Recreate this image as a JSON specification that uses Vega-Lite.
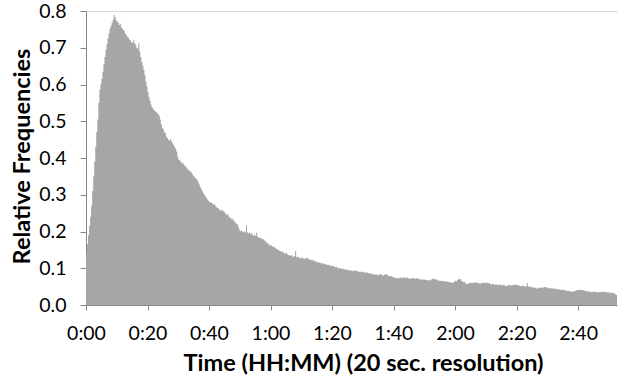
{
"$schema":"https://vega.github.io/schema/vega-lite/v6.json",
"width":531,"height":294,
"autosize":"none",
"padding":{"left":86,"top":11,"right":1,"bottom":74},
"background":"white",
"config":{"view":{"stroke":null},"font":"Lato"},
"data":{"values":[
{"s":0,"v":0.14},{"s":20,"v":0.165},{"s":40,"v":0.19},{"s":60,"v":0.215},{"s":80,"v":0.24},{"s":100,"v":0.27},{"s":120,"v":0.31},{"s":140,"v":0.35},{"s":160,"v":0.39},{"s":180,"v":0.43},
{"s":200,"v":0.47},{"s":220,"v":0.505},{"s":240,"v":0.55},{"s":260,"v":0.585},{"s":280,"v":0.6},{"s":300,"v":0.615},{"s":320,"v":0.635},{"s":340,"v":0.655},{"s":360,"v":0.675},{"s":380,"v":0.695},
{"s":400,"v":0.71},{"s":420,"v":0.725},{"s":440,"v":0.74},{"s":460,"v":0.752},{"s":480,"v":0.76},{"s":500,"v":0.768},{"s":520,"v":0.776},{"s":540,"v":0.789},{"s":560,"v":0.782},{"s":580,"v":0.775},
{"s":600,"v":0.771},{"s":620,"v":0.768},{"s":640,"v":0.762},{"s":660,"v":0.765},{"s":680,"v":0.756},{"s":700,"v":0.752},{"s":720,"v":0.748},{"s":740,"v":0.745},{"s":760,"v":0.738},{"s":780,"v":0.735},
{"s":800,"v":0.73},{"s":820,"v":0.727},{"s":840,"v":0.722},{"s":860,"v":0.72},{"s":880,"v":0.715},{"s":900,"v":0.713},{"s":920,"v":0.721},{"s":940,"v":0.712},{"s":960,"v":0.708},{"s":980,"v":0.7},
{"s":1000,"v":0.698},{"s":1020,"v":0.712},{"s":1040,"v":0.69},{"s":1060,"v":0.675},{"s":1080,"v":0.662},{"s":1100,"v":0.652},{"s":1120,"v":0.64},{"s":1140,"v":0.625},{"s":1160,"v":0.608},{"s":1180,"v":0.595},
{"s":1200,"v":0.58},{"s":1220,"v":0.565},{"s":1240,"v":0.555},{"s":1260,"v":0.545},{"s":1280,"v":0.538},{"s":1300,"v":0.535},{"s":1320,"v":0.53},{"s":1340,"v":0.528},{"s":1360,"v":0.525},{"s":1380,"v":0.522},
{"s":1400,"v":0.52},{"s":1420,"v":0.515},{"s":1440,"v":0.505},{"s":1460,"v":0.492},{"s":1480,"v":0.482},{"s":1500,"v":0.478},{"s":1520,"v":0.47},{"s":1540,"v":0.468},{"s":1560,"v":0.458},{"s":1580,"v":0.454},
{"s":1600,"v":0.45},{"s":1620,"v":0.447},{"s":1640,"v":0.452},{"s":1660,"v":0.445},{"s":1680,"v":0.44},{"s":1700,"v":0.436},{"s":1720,"v":0.43},{"s":1740,"v":0.425},{"s":1760,"v":0.418},{"s":1780,"v":0.405},
{"s":1800,"v":0.396},{"s":1820,"v":0.394},{"s":1840,"v":0.39},{"s":1860,"v":0.385},{"s":1880,"v":0.388},{"s":1900,"v":0.382},{"s":1920,"v":0.378},{"s":1940,"v":0.376},{"s":1960,"v":0.372},{"s":1980,"v":0.368},
{"s":2000,"v":0.366},{"s":2020,"v":0.364},{"s":2040,"v":0.362},{"s":2060,"v":0.358},{"s":2080,"v":0.353},{"s":2100,"v":0.35},{"s":2120,"v":0.346},{"s":2140,"v":0.343},{"s":2160,"v":0.341},{"s":2180,"v":0.335},
{"s":2200,"v":0.328},{"s":2220,"v":0.322},{"s":2240,"v":0.316},{"s":2260,"v":0.31},{"s":2280,"v":0.305},{"s":2300,"v":0.3},{"s":2320,"v":0.296},{"s":2340,"v":0.292},{"s":2360,"v":0.287},{"s":2380,"v":0.284},
{"s":2400,"v":0.28},{"s":2420,"v":0.278},{"s":2440,"v":0.279},{"s":2460,"v":0.276},{"s":2480,"v":0.272},{"s":2500,"v":0.275},{"s":2520,"v":0.269},{"s":2540,"v":0.266},{"s":2560,"v":0.264},{"s":2580,"v":0.262},
{"s":2600,"v":0.258},{"s":2620,"v":0.257},{"s":2640,"v":0.26},{"s":2660,"v":0.255},{"s":2680,"v":0.256},{"s":2700,"v":0.251},{"s":2720,"v":0.248},{"s":2740,"v":0.244},{"s":2760,"v":0.247},{"s":2780,"v":0.24},
{"s":2800,"v":0.238},{"s":2820,"v":0.236},{"s":2840,"v":0.232},{"s":2860,"v":0.235},{"s":2880,"v":0.228},{"s":2900,"v":0.225},{"s":2920,"v":0.222},{"s":2940,"v":0.22},{"s":2960,"v":0.214},{"s":2980,"v":0.207},
{"s":3000,"v":0.201},{"s":3020,"v":0.203},{"s":3040,"v":0.2},{"s":3060,"v":0.198},{"s":3080,"v":0.201},{"s":3100,"v":0.197},{"s":3120,"v":0.217},{"s":3140,"v":0.198},{"s":3160,"v":0.195},{"s":3180,"v":0.197},
{"s":3200,"v":0.193},{"s":3220,"v":0.196},{"s":3240,"v":0.19},{"s":3260,"v":0.189},{"s":3280,"v":0.192},{"s":3300,"v":0.188},{"s":3320,"v":0.197},{"s":3340,"v":0.186},{"s":3360,"v":0.184},{"s":3380,"v":0.182},
{"s":3400,"v":0.183},{"s":3420,"v":0.18},{"s":3440,"v":0.178},{"s":3460,"v":0.179},{"s":3480,"v":0.175},{"s":3500,"v":0.172},{"s":3520,"v":0.17},{"s":3540,"v":0.167},{"s":3560,"v":0.165},{"s":3580,"v":0.161},
{"s":3600,"v":0.163},{"s":3620,"v":0.16},{"s":3640,"v":0.158},{"s":3660,"v":0.159},{"s":3680,"v":0.155},{"s":3700,"v":0.154},{"s":3720,"v":0.152},{"s":3740,"v":0.15},{"s":3760,"v":0.148},{"s":3780,"v":0.147},
{"s":3800,"v":0.145},{"s":3820,"v":0.146},{"s":3840,"v":0.143},{"s":3860,"v":0.141},{"s":3880,"v":0.14},{"s":3900,"v":0.142},{"s":3920,"v":0.138},{"s":3940,"v":0.136},{"s":3960,"v":0.135},{"s":3980,"v":0.134},
{"s":4000,"v":0.136},{"s":4020,"v":0.132},{"s":4040,"v":0.131},{"s":4060,"v":0.133},{"s":4080,"v":0.147},{"s":4100,"v":0.13},{"s":4120,"v":0.132},{"s":4140,"v":0.129},{"s":4160,"v":0.128},{"s":4180,"v":0.127},
{"s":4200,"v":0.13},{"s":4220,"v":0.126},{"s":4240,"v":0.128},{"s":4260,"v":0.125},{"s":4280,"v":0.127},{"s":4300,"v":0.129},{"s":4320,"v":0.126},{"s":4340,"v":0.124},{"s":4360,"v":0.125},{"s":4380,"v":0.122},
{"s":4400,"v":0.121},{"s":4420,"v":0.123},{"s":4440,"v":0.12},{"s":4460,"v":0.118},{"s":4480,"v":0.119},{"s":4500,"v":0.117},{"s":4520,"v":0.115},{"s":4540,"v":0.116},{"s":4560,"v":0.114},{"s":4580,"v":0.113},
{"s":4600,"v":0.115},{"s":4620,"v":0.112},{"s":4640,"v":0.111},{"s":4660,"v":0.112},{"s":4680,"v":0.11},{"s":4700,"v":0.109},{"s":4720,"v":0.108},{"s":4740,"v":0.11},{"s":4760,"v":0.107},{"s":4780,"v":0.106},
{"s":4800,"v":0.107},{"s":4820,"v":0.106},{"s":4840,"v":0.104},{"s":4860,"v":0.103},{"s":4880,"v":0.104},{"s":4900,"v":0.101},{"s":4920,"v":0.1},{"s":4940,"v":0.101},{"s":4960,"v":0.099},{"s":4980,"v":0.098},
{"s":5000,"v":0.099},{"s":5020,"v":0.097},{"s":5040,"v":0.096},{"s":5060,"v":0.098},{"s":5080,"v":0.096},{"s":5100,"v":0.095},{"s":5120,"v":0.094},{"s":5140,"v":0.095},{"s":5160,"v":0.093},{"s":5180,"v":0.094},
{"s":5200,"v":0.092},{"s":5220,"v":0.093},{"s":5240,"v":0.094},{"s":5260,"v":0.092},{"s":5280,"v":0.093},{"s":5300,"v":0.091},{"s":5320,"v":0.09},{"s":5340,"v":0.091},{"s":5360,"v":0.089},{"s":5380,"v":0.09},
{"s":5400,"v":0.091},{"s":5420,"v":0.088},{"s":5440,"v":0.089},{"s":5460,"v":0.087},{"s":5480,"v":0.089},{"s":5500,"v":0.086},{"s":5520,"v":0.087},{"s":5540,"v":0.085},{"s":5560,"v":0.084},{"s":5580,"v":0.086},
{"s":5600,"v":0.083},{"s":5620,"v":0.084},{"s":5640,"v":0.082},{"s":5660,"v":0.083},{"s":5680,"v":0.082},{"s":5700,"v":0.081},{"s":5720,"v":0.083},{"s":5740,"v":0.085},{"s":5760,"v":0.082},{"s":5780,"v":0.08},
{"s":5800,"v":0.081},{"s":5820,"v":0.083},{"s":5840,"v":0.084},{"s":5860,"v":0.084},{"s":5880,"v":0.08},{"s":5900,"v":0.079},{"s":5920,"v":0.078},{"s":5940,"v":0.079},{"s":5960,"v":0.077},{"s":5980,"v":0.076},
{"s":6000,"v":0.075},{"s":6020,"v":0.074},{"s":6040,"v":0.073},{"s":6060,"v":0.073},{"s":6080,"v":0.074},{"s":6100,"v":0.072},{"s":6120,"v":0.074},{"s":6140,"v":0.075},{"s":6160,"v":0.073},{"s":6180,"v":0.074},
{"s":6200,"v":0.076},{"s":6220,"v":0.073},{"s":6240,"v":0.075},{"s":6260,"v":0.075},{"s":6280,"v":0.072},{"s":6300,"v":0.073},{"s":6320,"v":0.071},{"s":6340,"v":0.073},{"s":6360,"v":0.072},{"s":6380,"v":0.074},
{"s":6400,"v":0.071},{"s":6420,"v":0.072},{"s":6440,"v":0.073},{"s":6460,"v":0.073},{"s":6480,"v":0.07},{"s":6500,"v":0.071},{"s":6520,"v":0.069},{"s":6540,"v":0.07},{"s":6560,"v":0.068},{"s":6580,"v":0.07},
{"s":6600,"v":0.069},{"s":6620,"v":0.068},{"s":6640,"v":0.069},{"s":6660,"v":0.067},{"s":6680,"v":0.068},{"s":6700,"v":0.066},{"s":6720,"v":0.069},{"s":6740,"v":0.07},{"s":6760,"v":0.072},{"s":6780,"v":0.071},
{"s":6800,"v":0.07},{"s":6820,"v":0.068},{"s":6840,"v":0.07},{"s":6860,"v":0.067},{"s":6880,"v":0.066},{"s":6900,"v":0.067},{"s":6920,"v":0.065},{"s":6940,"v":0.066},{"s":6960,"v":0.064},{"s":6980,"v":0.065},
{"s":7000,"v":0.063},{"s":7020,"v":0.064},{"s":7040,"v":0.064},{"s":7060,"v":0.062},{"s":7080,"v":0.063},{"s":7100,"v":0.061},{"s":7120,"v":0.062},{"s":7140,"v":0.06},{"s":7160,"v":0.061},{"s":7180,"v":0.063},
{"s":7200,"v":0.066},{"s":7220,"v":0.064},{"s":7240,"v":0.068},{"s":7260,"v":0.07},{"s":7280,"v":0.071},{"s":7300,"v":0.07},{"s":7320,"v":0.065},{"s":7340,"v":0.064},{"s":7360,"v":0.062},{"s":7380,"v":0.063},
{"s":7400,"v":0.058},{"s":7420,"v":0.057},{"s":7440,"v":0.058},{"s":7460,"v":0.059},{"s":7480,"v":0.06},{"s":7500,"v":0.061},{"s":7520,"v":0.06},{"s":7540,"v":0.059},{"s":7560,"v":0.061},{"s":7580,"v":0.062},
{"s":7600,"v":0.061},{"s":7620,"v":0.061},{"s":7640,"v":0.059},{"s":7660,"v":0.06},{"s":7680,"v":0.058},{"s":7700,"v":0.059},{"s":7720,"v":0.06},{"s":7740,"v":0.061},{"s":7760,"v":0.059},{"s":7780,"v":0.06},
{"s":7800,"v":0.061},{"s":7820,"v":0.06},{"s":7840,"v":0.059},{"s":7860,"v":0.06},{"s":7880,"v":0.057},{"s":7900,"v":0.056},{"s":7920,"v":0.058},{"s":7940,"v":0.057},{"s":7960,"v":0.055},{"s":7980,"v":0.056},
{"s":8000,"v":0.055},{"s":8020,"v":0.055},{"s":8040,"v":0.054},{"s":8060,"v":0.056},{"s":8080,"v":0.055},{"s":8100,"v":0.053},{"s":8120,"v":0.054},{"s":8140,"v":0.055},{"s":8160,"v":0.053},{"s":8180,"v":0.052},
{"s":8200,"v":0.052},{"s":8220,"v":0.054},{"s":8240,"v":0.055},{"s":8260,"v":0.054},{"s":8280,"v":0.053},{"s":8300,"v":0.054},{"s":8320,"v":0.055},{"s":8340,"v":0.054},{"s":8360,"v":0.056},{"s":8380,"v":0.055},
{"s":8400,"v":0.055},{"s":8420,"v":0.053},{"s":8440,"v":0.054},{"s":8460,"v":0.052},{"s":8480,"v":0.051},{"s":8500,"v":0.052},{"s":8520,"v":0.053},{"s":8540,"v":0.051},{"s":8560,"v":0.05},{"s":8580,"v":0.052},
{"s":8600,"v":0.06},{"s":8620,"v":0.051},{"s":8640,"v":0.05},{"s":8660,"v":0.049},{"s":8680,"v":0.05},{"s":8700,"v":0.048},{"s":8720,"v":0.047},{"s":8740,"v":0.048},{"s":8760,"v":0.046},{"s":8780,"v":0.045},
{"s":8800,"v":0.045},{"s":8820,"v":0.047},{"s":8840,"v":0.046},{"s":8860,"v":0.048},{"s":8880,"v":0.047},{"s":8900,"v":0.046},{"s":8920,"v":0.048},{"s":8940,"v":0.049},{"s":8960,"v":0.048},{"s":8980,"v":0.048},
{"s":9000,"v":0.046},{"s":9020,"v":0.047},{"s":9040,"v":0.045},{"s":9060,"v":0.046},{"s":9080,"v":0.044},{"s":9100,"v":0.045},{"s":9120,"v":0.045},{"s":9140,"v":0.044},{"s":9160,"v":0.043},{"s":9180,"v":0.044},
{"s":9200,"v":0.042},{"s":9220,"v":0.043},{"s":9240,"v":0.041},{"s":9260,"v":0.042},{"s":9280,"v":0.041},{"s":9300,"v":0.042},{"s":9320,"v":0.041},{"s":9340,"v":0.04},{"s":9360,"v":0.039},{"s":9380,"v":0.038},
{"s":9400,"v":0.039},{"s":9420,"v":0.037},{"s":9440,"v":0.038},{"s":9460,"v":0.036},{"s":9480,"v":0.037},{"s":9500,"v":0.036},{"s":9520,"v":0.038},{"s":9540,"v":0.039},{"s":9560,"v":0.04},{"s":9580,"v":0.041},
{"s":9600,"v":0.04},{"s":9620,"v":0.041},{"s":9640,"v":0.042},{"s":9660,"v":0.04},{"s":9680,"v":0.041},{"s":9700,"v":0.041},{"s":9720,"v":0.039},{"s":9740,"v":0.038},{"s":9760,"v":0.037},{"s":9780,"v":0.038},
{"s":9800,"v":0.036},{"s":9820,"v":0.037},{"s":9840,"v":0.036},{"s":9860,"v":0.035},{"s":9880,"v":0.036},{"s":9900,"v":0.036},{"s":9920,"v":0.037},{"s":9940,"v":0.035},{"s":9960,"v":0.036},{"s":9980,"v":0.034},
{"s":10000,"v":0.035},{"s":10020,"v":0.036},{"s":10040,"v":0.035},{"s":10060,"v":0.036},{"s":10080,"v":0.036},{"s":10100,"v":0.035},{"s":10120,"v":0.036},{"s":10140,"v":0.035},{"s":10160,"v":0.034},{"s":10180,"v":0.035},
{"s":10200,"v":0.033},{"s":10220,"v":0.034},{"s":10240,"v":0.033},{"s":10260,"v":0.032},{"s":10280,"v":0.033},{"s":10300,"v":0.031},{"s":10320,"v":0.029},{"s":10340,"v":0.027},{"s":10360,"v":0.027}
]},
"mark":{"type":"area","interpolate":"step-after","color":"#A6A6A6"},
"encoding":{
  "x":{"field":"s","type":"quantitative","scale":{"domain":[0,10360],"nice":false,"zero":false},
   "axis":{"values":[0,1200,2400,3600,4800,6000,7200,8400,9600],
    "labelExpr":"floor(datum.value/3600) + ':' + (floor(datum.value%3600/60) < 10 ? '0' : '') + floor(datum.value%3600/60)",
    "title":"Time (HH:MM) (20 sec. resolution)","grid":false,
    "domainColor":"#868686","tickColor":"#868686","tickSize":5,
    "labelFont":"Lato","labelFontSize":19.5,"labelColor":"#000000","labelPadding":14,"labelFlush":false,"labelOverlap":false,
    "titleFont":"Lato","titleFontSize":23.5,"titleFontWeight":"bold","titleColor":"#000000","titlePadding":9,"titleX":277}},
  "y":{"field":"v","type":"quantitative","scale":{"domain":[0,0.8],"nice":false},
   "axis":{"values":[0,0.1,0.2,0.3,0.4,0.5,0.6,0.7,0.8],"format":".1f","tickCount":9,
    "title":"Relative Frequencies","grid":true,"gridColor":"#D9D9D9",
    "gridOpacity":{"condition":{"test":"datum.value > 0.79","value":1},"value":0},
    "domainColor":"#868686","tickColor":"#868686","tickSize":6,
    "labelFont":"Lato","labelFontSize":19.5,"labelColor":"#000000","labelPadding":14,"labelFlush":false,"labelOverlap":false,
    "titleFont":"Lato","titleFontSize":23.5,"titleFontWeight":"bold","titleColor":"#000000","titlePadding":4,"titleY":145}}
}
}
